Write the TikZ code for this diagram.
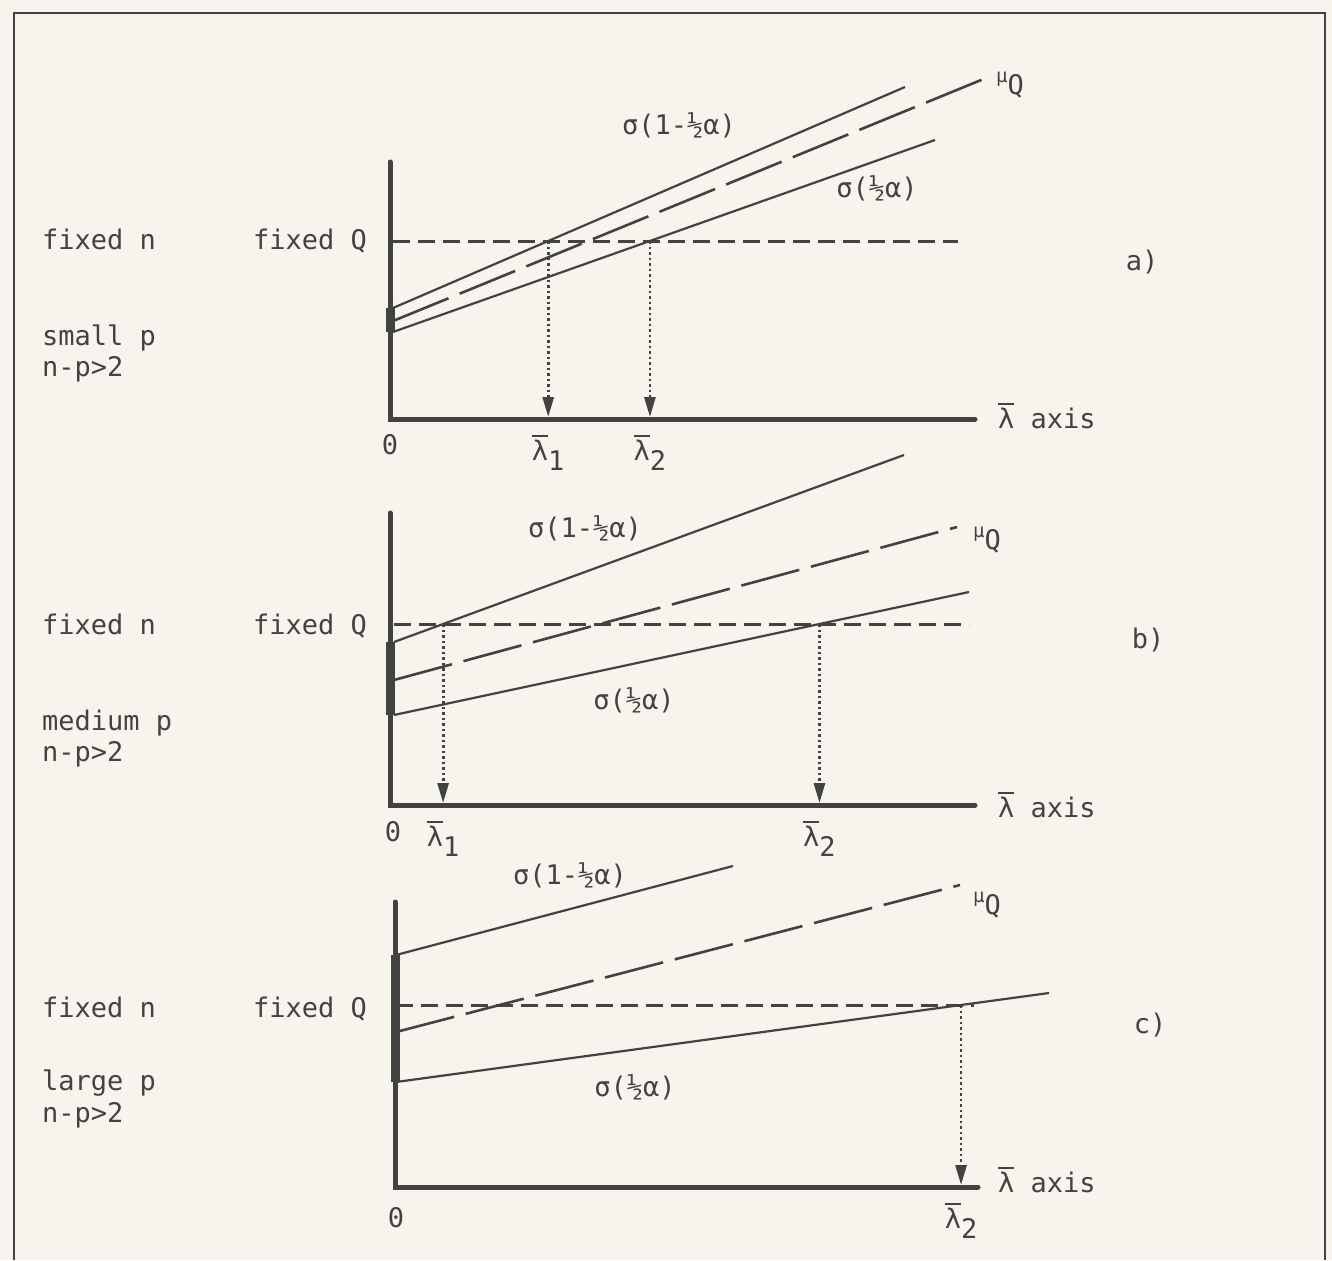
\documentclass[tikz,border=0pt]{standalone}
\usepackage{fontspec}
\setmainfont{DejaVu Sans Mono}
\usetikzlibrary{arrows.meta}
\definecolor{paper}{RGB}{246,244,236}
\definecolor{ink}{RGB}{66,66,64}
\newcommand{\lbar}{\vbox{\hrule height 1.8pt\kern 3pt\hbox{λ}}}
\newcommand{\muq}{{\fontsize{19}{20}\selectfont\raisebox{12pt}{μ}}Q}

\begin{document}
\begin{tikzpicture}[x=1pt,y=-1pt,color=ink,
  txt/.style={font=\fontsize{27}{31}\selectfont,text=ink,inner sep=0pt},
  axis/.style={line width=5pt,line cap=round},
  stub/.style={line width=9pt},
  bound/.style={line width=2.2pt},
  mean/.style={line width=2.6pt,dash pattern=on 60pt off 12pt},
  fixq/.style={line width=3pt,dash pattern=on 17pt off 8pt},
  drop/.style={line width=2.8pt,dash pattern=on 2.5pt off 3pt,shorten >=2pt,
    -{Triangle[width=11pt,length=20pt]}}]

\useasboundingbox (0,0) rectangle (1332,1260);
\fill[paper] (0,0) rectangle (1332,1260);
% frame
\draw[line width=2.5pt] (14,1260) -- (14,13) -- (1325,13) -- (1325,1260);

% ---- a) small p
\coordinate (a0) at (390,419);
\coordinate (atop) at (390,162);
\coordinate (aend) at (975,419);
\coordinate (au1) at (393,308); \coordinate (au2) at (905,87);
\coordinate (am1) at (393,321); \coordinate (am2) at (986,78);
\coordinate (al1) at (393,332); \coordinate (al2) at (935,140);
\coordinate (aq1) at (393,241); \coordinate (aq2) at (958,241);
\coordinate (ax1) at (intersection of au1--au2 and aq1--aq2);
\coordinate (ax2) at (intersection of al1--al2 and aq1--aq2);

\draw[axis] (atop) -- (a0) -- (aend);
\draw[stub] (au1 -| a0) -- (al1 -| a0);
\draw[bound] (au1) -- (au2);
\draw[mean] (am1) -- (am2);
\draw[bound] (al1) -- (al2);
\draw[fixq] (aq1) -- (aq2);
\draw[drop] (ax1) -- (ax1 |- a0);
\draw[drop] (ax2) -- (ax2 |- a0);

\node[txt,anchor=base west] (an) at (42,249) {fixed n};
\node[txt,anchor=base east] (aq) at (367,249) {fixed Q};
\node[txt,anchor=base west] (ap) at (42,345) {small p};
\node[txt,anchor=base west] (anp) at (42,376) {n-p>2};
\node[txt] (asu) at (679,125) {σ(1-½α)};
\node[txt] (asl) at (877,188) {σ(½α)};
\node[txt] (amu) at (1010,85) {\muq};
\node[txt] (atag) at (1142,262) {a)};
\node[txt] (azero) at (390,445) {0};
\node[txt,anchor=north] (alam1) at ([yshift=-16pt]ax1 |- a0) {\lbar\raisebox{-10pt}{1}};
\node[txt,anchor=north] (alam2) at ([yshift=-16pt]ax2 |- a0) {\lbar\raisebox{-10pt}{2}};
\node[txt,anchor=west] (aax) at (998,416) {\lbar{} axis};

% ---- b) medium p
\coordinate (b0) at (390,805);
\coordinate (btop) at (390,513);
\coordinate (bend) at (975,805);
\coordinate (bu1) at (394,642); \coordinate (bu2) at (904,455);
\coordinate (bm1) at (394,680); \coordinate (bm2) at (957,527);
\coordinate (bl1) at (394,715); \coordinate (bl2) at (969,592);
\coordinate (bq1) at (394,624); \coordinate (bq2) at (969,624);
\coordinate (bx1) at (intersection of bu1--bu2 and bq1--bq2);
\coordinate (bx2) at (intersection of bl1--bl2 and bq1--bq2);

\draw[axis] (btop) -- (b0) -- (bend);
\draw[stub] (bu1 -| b0) -- (bl1 -| b0);
\draw[bound] (bu1) -- (bu2);
\draw[mean] (bm1) -- (bm2);
\draw[bound] (bl1) -- (bl2);
\draw[fixq] (bq1) -- (bq2);
\draw[drop] (bx1) -- (bx1 |- b0);
\draw[drop] (bx2) -- (bx2 |- b0);

\node[txt,anchor=base west] (bn) at (42,634) {fixed n};
\node[txt,anchor=base east] (bq) at (367,634) {fixed Q};
\node[txt,anchor=base west] (bp) at (42,730) {medium p};
\node[txt,anchor=base west] (bnp) at (42,761) {n-p>2};
\node[txt] (bsu) at (585,528) {σ(1-½α)};
\node[txt] (bsl) at (634,700) {σ(½α)};
\node[txt] (bmu) at (987,540) {\muq};
\node[txt] (btag) at (1148,640) {b)};
\node[txt] (bzero) at (393,832) {0};
\node[txt,anchor=north] (blam1) at ([yshift=-16pt]bx1 |- b0) {\lbar\raisebox{-10pt}{1}};
\node[txt,anchor=north] (blam2) at ([yshift=-16pt]bx2 |- b0) {\lbar\raisebox{-10pt}{2}};
\node[txt,anchor=west] (bax) at (998,805) {\lbar{} axis};

% ---- c) large p
\coordinate (c0) at (395,1187);
\coordinate (ctop) at (395,902);
\coordinate (cend) at (978,1187);
\coordinate (cu1) at (396,955); \coordinate (cu2) at (733,866);
\coordinate (cm1) at (396,1032); \coordinate (cm2) at (960,885);
\coordinate (cl1) at (396,1082); \coordinate (cl2) at (1049,993);
\coordinate (cq1) at (396,1005); \coordinate (cq2) at (974,1005);
\coordinate (cx2) at (intersection of cl1--cl2 and cq1--cq2);

\draw[axis] (ctop) -- (c0) -- (cend);
\draw[stub] (cu1 -| c0) -- (cl1 -| c0);
\draw[bound] (cu1) -- (cu2);
\draw[mean] (cm1) -- (cm2);
\draw[bound] (cl1) -- (cl2);
\draw[fixq] (cq1) -- (cq2);
\draw[drop] (cx2) -- (cx2 |- c0);

\node[txt,anchor=base west] (cn) at (42,1017) {fixed n};
\node[txt,anchor=base east] (cq) at (367,1017) {fixed Q};
\node[txt,anchor=base west] (cp) at (42,1090) {large p};
\node[txt,anchor=base west] (cnp) at (42,1122) {n-p>2};
\node[txt] (csu) at (570,875) {σ(1-½α)};
\node[txt] (csl) at (635,1087) {σ(½α)};
\node[txt] (cmu) at (987,905) {\muq};
\node[txt] (ctag) at (1150,1025) {c)};
\node[txt] (czero) at (396,1218) {0};
\node[txt,anchor=north] (clam2) at ([yshift=-16pt]cx2 |- c0) {\lbar\raisebox{-10pt}{2}};
\node[txt,anchor=west] (cax) at (998,1180) {\lbar{} axis};
\end{tikzpicture}
\end{document}
